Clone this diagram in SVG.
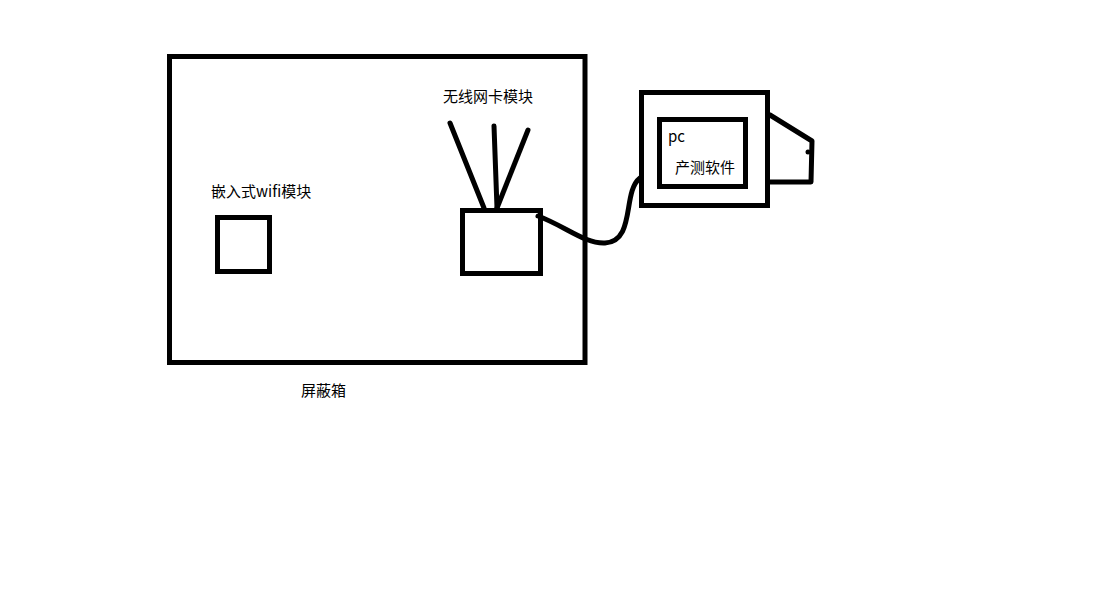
<svg xmlns="http://www.w3.org/2000/svg" width="1113" height="609" viewBox="0 0 1113 609">
<style>
.b{fill:none;stroke:#000;stroke-width:5}
.l{fill:none;stroke:#000;stroke-width:5;stroke-linecap:round;stroke-linejoin:round}
text{font-family:"Noto Sans CJK SC","Microsoft YaHei",sans-serif;font-size:15px;fill:#000}
</style>
<rect width="1113" height="609" fill="#fff"/>
<g id="shield-box">
<rect class="b" x="169.5" y="56.5" width="415.5" height="306"/>
<text x="301" y="396">屏蔽箱</text>
</g>
<g id="embedded-wifi">
<rect class="b" x="217.5" y="217.5" width="52" height="54"/>
<text x="211" y="197">嵌入式wifi模块</text>
</g>
<g id="wireless-card">
<rect class="b" x="462.5" y="210.5" width="78" height="63"/>
<line class="l" x1="450" y1="123" x2="484" y2="208"/>
<line class="l" x1="494" y1="126" x2="497" y2="208"/>
<line class="l" x1="528" y1="130" x2="497" y2="208"/>
<text x="443" y="102">无线网卡模块</text>
</g>
<g id="pc">
<rect class="b" x="641.5" y="92.5" width="126" height="113"/>
<rect class="b" x="659.5" y="119.5" width="86" height="67"/>
<polyline class="l" points="770,115 812,141 811,182 770,182"/>
<circle cx="808" cy="152" r="2.5" fill="#000"/>
<text x="668" y="142">pc</text>
<text x="675" y="173">产测软件</text>
</g>
<g id="connectors">
<path class="l" d="M538,216 C565,226 585,244 605,243 C636,241 622,192 640,178"/>
</g>
</svg>
